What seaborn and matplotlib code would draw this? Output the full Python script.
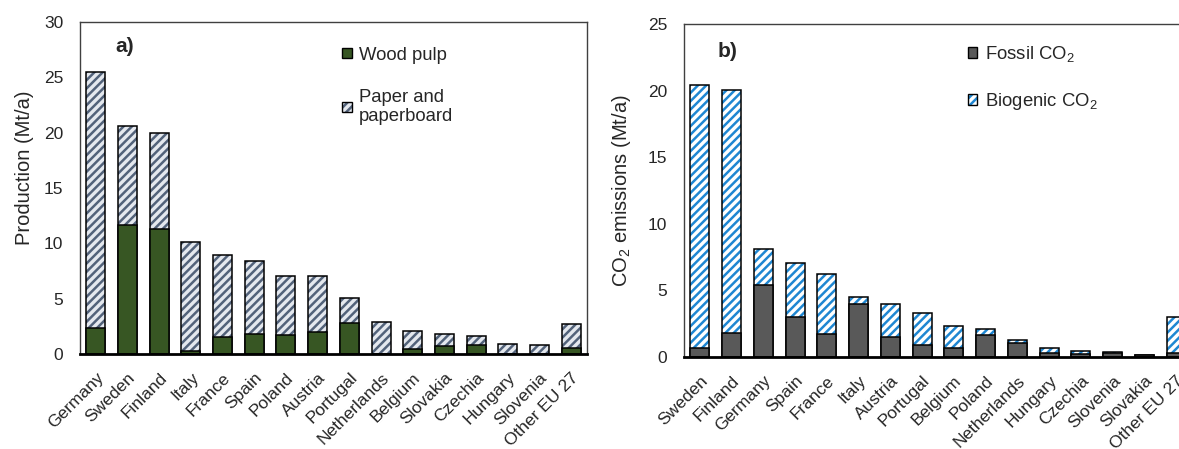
import numpy as np
import pandas as pd
import matplotlib
matplotlib.use("Agg")
import matplotlib.pyplot as plt
import seaborn as sns
from matplotlib.patches import Patch
from matplotlib.legend_handler import HandlerTuple

# ---------------- data ----------------
countries_a = ["Germany", "Sweden", "Finland", "Italy", "France", "Spain", "Poland",
               "Austria", "Portugal", "Netherlands", "Belgium", "Slovakia", "Czechia",
               "Hungary", "Slovenia", "Other EU 27"]
wood_pulp = [2.32, 11.62, 11.32, 0.27, 1.57, 1.81, 1.72, 1.96, 2.77, 0.02, 0.45, 0.72,
             0.84, 0.0, 0.02, 0.51]
paper = [23.13, 8.95, 8.67, 9.85, 7.37, 6.62, 5.36, 5.06, 2.26, 2.90, 1.66, 1.06,
         0.81, 0.93, 0.76, 2.20]

countries_b = ["Sweden", "Finland", "Germany", "Spain", "France", "Italy", "Austria",
               "Portugal", "Belgium", "Poland", "Netherlands", "Hungary", "Czechia",
               "Slovenia", "Slovakia", "Other EU 27"]
fossil = [0.68, 1.78, 5.41, 3.03, 1.73, 4.00, 1.53, 0.90, 0.70, 1.63, 1.07, 0.32,
          0.20, 0.30, 0.15, 0.32]
biogenic = [19.76, 18.27, 2.72, 4.05, 4.53, 0.50, 2.42, 2.43, 1.60, 0.47, 0.23, 0.38,
            0.23, 0.05, 0.02, 2.68]

yticks_a = [0, 5, 10, 15, 20, 25, 30]
yticks_b = [0, 5, 10, 15, 20, 25]

# ---------------- style ----------------
sns.set_style("white")
plt.rcParams["font.family"] = ["Liberation Sans", "DejaVu Sans"]
plt.rcParams["mathtext.fontset"] = "custom"
plt.rcParams["mathtext.rm"] = "Liberation Sans"
plt.rcParams["mathtext.it"] = "Liberation Sans:italic"
plt.rcParams["hatch.linewidth"] = 1.8

GREEN = "#375623"
PAPER_BG = "#e4e8ee"
PAPER_HATCH = "#52627a"
FOSSIL = "#595959"
BIO_BG = "#ffffff"
BIO_HATCH = "#1f87d2"
TICK_FS = 12.5
LAB_FS = 14.5
LEG_FS = 13.3

fig = plt.figure(figsize=(11.79, 4.49), dpi=100)
W, H = 1179, 449
ax_a = fig.add_axes([80 / W, 1 - 354 / H, (587 - 80) / W, (354 - 22) / H])
ax_b = fig.add_axes([684 / W, 1 - 357 / H, (1192 - 684) / W, (357 - 24) / H])


def stacked(ax, cats, bottom, top, bottom_color, top_bg, top_hatch):
    df = pd.DataFrame({"c": cats, "b": bottom, "t": np.array(bottom) + np.array(top)})
    # hatched upper segment (full height, covered below by bottom segment)
    sns.barplot(data=df, x="c", y="t", order=cats, ax=ax, color=top_bg, saturation=1,
                width=0.6, errorbar=None, hatch="////", edgecolor=top_hatch, linewidth=0)
    # outline of the whole bar
    sns.barplot(data=df, x="c", y="t", order=cats, ax=ax, color="black", saturation=1,
                width=0.6, errorbar=None, fill=False, linewidth=1.1)
    # lower segment
    sns.barplot(data=df, x="c", y="b", order=cats, ax=ax, color=bottom_color, saturation=1,
                width=0.6, errorbar=None, edgecolor="black", linewidth=1.1)


stacked(ax_a, countries_a, wood_pulp, paper, GREEN, PAPER_BG, PAPER_HATCH)
stacked(ax_b, countries_b, fossil, biogenic, FOSSIL, BIO_BG, BIO_HATCH)


def style(ax, ymax, yticks, ylabel, lx, ly):
    ax.set_xlim(-0.5, 15.5)
    ax.set_ylim(0, ymax)
    ax.set_yticks(yticks)
    ax.set_xlabel("")
    ax.set_ylabel(ylabel, fontsize=LAB_FS)
    ax.yaxis.set_label_coords(lx, ly)
    ax.tick_params(axis="y", length=0, pad=12, labelsize=TICK_FS)
    ax.tick_params(axis="x", length=0, pad=11.5, labelsize=TICK_FS)
    for lab in ax.get_xticklabels():
        lab.set_rotation(45)
        lab.set_ha("right")
        lab.set_va("top")
        lab.set_rotation_mode("anchor")
    for s in ["top", "right", "left"]:
        ax.spines[s].set_color("#404040")
        ax.spines[s].set_linewidth(1.0)
    ax.spines["bottom"].set_color("black")
    ax.spines["bottom"].set_linewidth(2.0)
    ax.spines["bottom"].set_zorder(5)


style(ax_a, 30, yticks_a, "Production (Mt/a)", -0.09, 0.562)
style(ax_b, 25, yticks_b, r"CO$_\mathregular{2}$ emissions (Mt/a)", -0.1, 0.5)

ax_a.text(0.069, 0.925, "a)", transform=ax_a.transAxes, fontsize=15,
          fontweight="bold", va="center", ha="left")
ax_b.text(0.067, 0.916, "b)", transform=ax_b.transAxes, fontsize=15,
          fontweight="bold", va="center", ha="left")


def legend(ax, x, y, spacing, entries):
    handles, labels = [], []
    for color, hatch, hcolor, lab in entries:
        if hatch:
            h = (Patch(facecolor=color, hatch=hatch, edgecolor=hcolor, linewidth=0),
                 Patch(facecolor="none", edgecolor="black", linewidth=1.0))
        else:
            h = Patch(facecolor=color, edgecolor="black", linewidth=1.0)
        handles.append(h)
        labels.append(lab)
    ax.legend(handles, labels, loc="upper left", bbox_to_anchor=(x, y), frameon=False,
              fontsize=LEG_FS, handlelength=0.5, handleheight=0.5, handletextpad=0.4,
              labelspacing=spacing, borderaxespad=0,
              handler_map={tuple: HandlerTuple(ndivide=1, pad=0)})


legend(ax_a, 0.503, 0.948, 1.35, [(GREEN, None, None, "Wood pulp"),
                                   (PAPER_BG, "////", PAPER_HATCH, "Paper and\npaperboard")])
legend(ax_b, 0.545, 0.962, 1.45, [(FOSSIL, None, None, r"Fossil CO$_\mathregular{2}$"),
                                   (BIO_BG, "////", BIO_HATCH, r"Biogenic CO$_\mathregular{2}$")])

fig.savefig("out.png", dpi=100)
